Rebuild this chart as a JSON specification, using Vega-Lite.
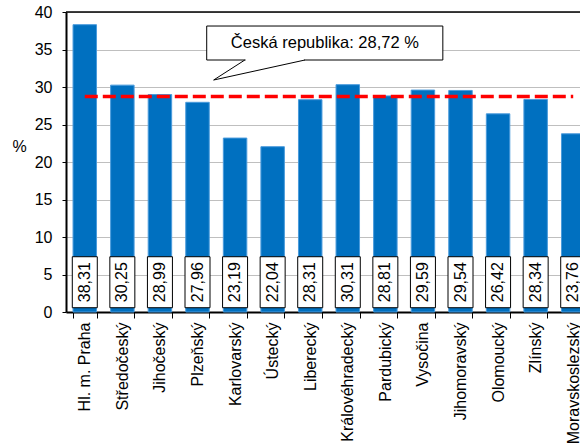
{
  "$schema": "https://vega.github.io/schema/vega-lite/v6.json",
  "width": 514,
  "height": 300,
  "autosize": {"type": "none"},
  "padding": {"left": 66, "top": 12, "right": 0, "bottom": 131},
  "background": "white",
  "config": {
    "locale": {"number": {"decimal": ",", "thousands": " ", "grouping": [3], "currency": ["", " Kč"]}},
    "font": "Liberation Sans",
    "view": {"stroke": null},
    "axis": {"labelColor": "black", "titleColor": "black", "labelFont": "Liberation Sans", "titleFont": "Liberation Sans"},
    "axisY": {
      "tickCount": 8, "labelOverlap": false,
      "labelFontSize": 16, "labelPadding": 10,
      "domainColor": "black", "domainWidth": 2, "tickColor": "black", "tickSize": 4,
      "grid": true, "gridColor": "#BFBFBF", "gridWidth": 1,
      "titleAngle": 0, "titleX": -47, "titleY": 134, "titleAlign": "center", "titleBaseline": "middle",
      "titleFontSize": 16, "titleFontWeight": "normal"
    }
  },
  "data": {
    "values": [
      {"kraj": "Hl. m. Praha", "hodnota": 38.31},
      {"kraj": "Středočeský", "hodnota": 30.25},
      {"kraj": "Jihočeský", "hodnota": 28.99},
      {"kraj": "Plzeňský", "hodnota": 27.96},
      {"kraj": "Karlovarský", "hodnota": 23.19},
      {"kraj": "Ústecký", "hodnota": 22.04},
      {"kraj": "Liberecký", "hodnota": 28.31},
      {"kraj": "Královéhradecký", "hodnota": 30.31},
      {"kraj": "Pardubický", "hodnota": 28.81},
      {"kraj": "Vysočina", "hodnota": 29.59},
      {"kraj": "Jihomoravský", "hodnota": 29.54},
      {"kraj": "Olomoucký", "hodnota": 26.42},
      {"kraj": "Zlínský", "hodnota": 28.34},
      {"kraj": "Moravskoslezský", "hodnota": 23.76}
    ]
  },
  "layer": [
    {
      "layer": [
        {
          "mark": {"type": "bar", "color": "#0070C0", "stroke": "#4A9BDC", "strokeWidth": 1},
          "encoding": {
            "x": {
              "field": "kraj", "type": "nominal", "sort": null,
              "scale": {
                "domain": ["Hl. m. Praha", "Středočeský", "Jihočeský", "Plzeňský", "Karlovarský", "Ústecký", "Liberecký", "Královéhradecký", "Pardubický", "Vysočina", "Jihomoravský", "Olomoucký", "Zlínský", "Moravskoslezský"],
                "range": [0, 526], "paddingInner": 0.375, "paddingOuter": 0.1875
              },
              "axis": {
                "title": null, "tickBand": "extent", "grid": false,
                "domainColor": "black", "domainWidth": 2, "tickColor": "black", "tickWidth": 1, "tickSize": 6,
                "labelAngle": -90, "labelFontSize": 16, "labelPadding": 4, "labelOverlap": false
              }
            },
            "y": {
              "field": "hodnota", "type": "quantitative",
              "scale": {"domain": [0, 40], "nice": false},
              "axis": {"title": "%"}
            }
          }
        },
        {
          "mark": {"type": "bar", "fill": "white", "stroke": "black", "strokeWidth": 1, "width": 25},
          "encoding": {
            "x": {"field": "kraj", "type": "nominal", "sort": null},
            "y": {"datum": 0.57, "type": "quantitative"},
            "y2": {"datum": 7.37}
          }
        },
        {
          "mark": {"type": "text", "angle": 270, "fontSize": 16, "align": "center", "baseline": "middle", "color": "black"},
          "encoding": {
            "x": {"field": "kraj", "type": "nominal", "sort": null},
            "y": {"datum": 3.97, "type": "quantitative"},
            "text": {"field": "hodnota", "type": "quantitative", "format": ".2f"}
          }
        },
        {
          "data": {"values": [{}]},
          "mark": {"type": "rule", "color": "#FF0000", "strokeWidth": 3.5, "strokeDash": [13, 5]},
          "encoding": {
            "x": {"datum": "Hl. m. Praha", "type": "nominal"},
            "x2": {"datum": "Moravskoslezský"},
            "y": {"datum": 28.72, "type": "quantitative"}
          }
        }
      ]
    },
    {
      "data": {"values": [{}]},
      "layer": [
        {
          "mark": {"type": "rule", "color": "black", "strokeWidth": 1.5},
          "encoding": {"y": {"datum": 40, "type": "quantitative"}}
        },
        {
          "mark": {"type": "rect", "fill": "white", "stroke": "black", "strokeWidth": 1},
          "encoding": {
            "x": {"datum": 3.745, "type": "quantitative", "scale": {"domain": [0, 14], "range": [0, 526]}, "axis": null},
            "x2": {"datum": 10.03},
            "y": {"datum": 38.13, "type": "quantitative"},
            "y2": {"datum": 33.6}
          }
        },
        {
          "mark": {"type": "rule", "color": "white", "strokeWidth": 2},
          "encoding": {
            "x": {"datum": 4.78, "type": "quantitative"},
            "x2": {"datum": 6.34},
            "y": {"datum": 33.6, "type": "quantitative"}
          }
        },
        {
          "mark": {"type": "rule", "color": "black", "strokeWidth": 1},
          "encoding": {
            "x": {"datum": 4.76, "type": "quantitative"},
            "x2": {"datum": 3.93},
            "y": {"datum": 33.6, "type": "quantitative"},
            "y2": {"datum": 30.93}
          }
        },
        {
          "mark": {"type": "rule", "color": "black", "strokeWidth": 1},
          "encoding": {
            "x": {"datum": 6.36, "type": "quantitative"},
            "x2": {"datum": 3.93},
            "y": {"datum": 33.6, "type": "quantitative"},
            "y2": {"datum": 30.93}
          }
        },
        {
          "mark": {"type": "text", "fontSize": 16.5, "align": "center", "baseline": "middle", "color": "black", "text": "Česká republika: 28,72 %"},
          "encoding": {
            "x": {"datum": 6.89, "type": "quantitative"},
            "y": {"datum": 35.87, "type": "quantitative"}
          }
        }
      ]
    }
  ],
  "resolve": {"scale": {"x": "independent"}}
}
